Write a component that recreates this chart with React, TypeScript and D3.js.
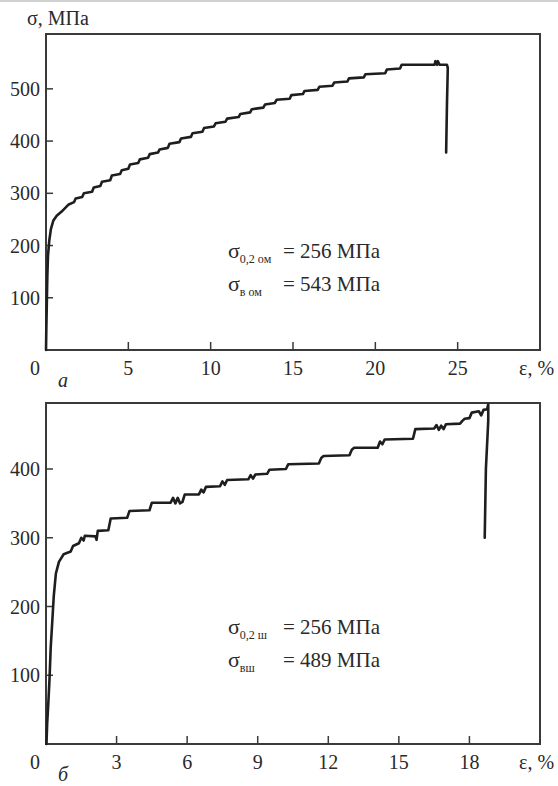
import React from "react";
import * as d3 from "d3";

// panel "а": tick values and the stress-strain trace [strain %, stress MPa]
const ticksXA = [5, 10, 15, 20, 25];
const ticksYA = [100, 200, 300, 400, 500];
const curveA: [number, number][] = [
  [0.0, 0], [0.02, 40], [0.05, 90], [0.08, 140], [0.12, 180], [0.2, 210], [0.3, 232],
  [0.45, 248], [0.65, 257], [0.95, 265], [1.35, 278], [1.7, 283], [1.8, 290], [2.2, 293],
  [2.3, 300], [2.8, 303], [2.9, 311], [3.3, 314], [3.4, 322], [3.9, 325], [4.0, 334],
  [4.5, 337], [4.6, 344], [5.0, 347], [5.1, 355], [5.6, 358], [5.7, 365], [6.2, 368],
  [6.3, 375], [6.8, 378], [6.9, 384], [7.4, 387], [7.5, 395], [8.1, 398], [8.2, 405],
  [8.8, 408], [8.9, 415], [9.5, 418], [9.6, 425], [10.2, 428], [10.3, 434], [10.9, 437],
  [11.0, 443], [11.7, 446], [11.8, 452], [12.4, 455], [12.5, 461], [13.2, 464], [13.3, 470],
  [13.9, 473], [14.0, 479], [14.8, 481], [14.9, 488], [15.6, 490], [15.7, 496], [16.5, 498],
  [16.6, 504], [17.4, 506], [17.5, 512], [18.3, 514], [18.4, 520], [19.3, 522], [19.4, 528],
  [20.6, 530], [20.7, 537], [21.5, 539], [21.6, 546], [23.6, 546], [23.65, 553], [23.75, 546],
  [23.8, 553], [23.9, 546], [24.35, 546], [24.4, 540], [24.35, 470], [24.3, 378],
];

// panel "б"
const ticksXB = [3, 6, 9, 12, 15, 18];
const ticksYB = [100, 200, 300, 400];
const curveB: [number, number][] = [
  [0.02, 0], [0.05, 30], [0.1, 60], [0.15, 95], [0.2, 140], [0.27, 180], [0.33, 215],
  [0.42, 248], [0.55, 265], [0.75, 276], [1.05, 280], [1.15, 288], [1.4, 292], [1.5, 300],
  [1.6, 296], [1.65, 303], [2.1, 302], [2.15, 297], [2.2, 310], [2.65, 311], [2.75, 328],
  [3.45, 329], [3.55, 339], [4.4, 340], [4.5, 351], [5.3, 351], [5.4, 358], [5.5, 350],
  [5.6, 358], [5.7, 350], [5.8, 352], [5.9, 363], [6.5, 363], [6.6, 370], [6.7, 366],
  [6.8, 374], [7.4, 375], [7.5, 382], [7.6, 377], [7.7, 384], [8.6, 385], [8.7, 391],
  [8.8, 386], [8.9, 392], [9.4, 393], [9.5, 399], [10.2, 400], [10.3, 407], [11.6, 408],
  [11.7, 416], [11.8, 419], [12.9, 420], [13.0, 428], [13.1, 431], [14.1, 431], [14.2, 440],
  [14.3, 436], [14.4, 443], [15.6, 444], [15.7, 458], [16.5, 459], [16.6, 464], [16.7, 457],
  [16.8, 463], [16.9, 458], [17.0, 465], [17.6, 466], [17.7, 470], [17.8, 473], [18.0, 474],
  [18.1, 482], [18.4, 484], [18.5, 478], [18.6, 486], [18.75, 487], [18.8, 494], [18.8, 470],
  [18.7, 400], [18.65, 300],
];

const FONT = "'Liberation Serif', 'Times New Roman', serif";
const INK = "#2a2a2a";

type PanelProps = {
  top: number;
  bottom: number;
  xMax: number;
  yMax: number;
  ticksX: number[];
  ticksY: number[];
  data: [number, number][];
  letter: string;
};

function Panel({ top, bottom, xMax, yMax, ticksX, ticksY, data, letter }: PanelProps) {
  const left = 46;
  const right = 540;
  const x = d3.scaleLinear().domain([0, xMax]).range([left, right]);
  const y = d3.scaleLinear().domain([0, yMax]).range([bottom, top]);
  const line = d3
    .line<[number, number]>()
    .x((d) => x(d[0]))
    .y((d) => y(d[1]));
  const labelY = bottom + 25;

  return (
    <g fontFamily={FONT} fill={INK}>
      <rect x={left} y={top} width={right - left} height={bottom - top}
        fill="none" stroke="#3a3a3a" strokeWidth={2} />
      {ticksX.map((t) => (
        <g key={"x" + t}>
          <line x1={x(t)} x2={x(t)} y1={bottom} y2={bottom - 8} stroke="#3a3a3a" strokeWidth={1.5} />
          <text x={x(t)} y={labelY} textAnchor="middle" fontSize={20}>{t}</text>
        </g>
      ))}
      {ticksY.map((t) => (
        <g key={"y" + t}>
          <line x1={left} x2={left + 7} y1={y(t)} y2={y(t)} stroke="#3a3a3a" strokeWidth={1.5} />
          <text x={40} y={y(t)} dy="0.35em" textAnchor="end" fontSize={20}>{t}</text>
        </g>
      ))}
      <text x={35} y={labelY} textAnchor="middle" fontSize={20}>0</text>
      <text x={519} y={labelY} fontSize={20}>ε, %</text>
      <text x={58} y={labelY + 12} fontSize={20} fontStyle="italic">{letter}</text>
      <path d={line(data) ?? ""} fill="none" stroke="#1e1e1e" strokeWidth={2.6}
        strokeLinejoin="round" strokeLinecap="round" />
    </g>
  );
}

function Note({ x, y, sub, rest }: { x: number; y: number; sub: string; rest: string }) {
  return (
    <g fontFamily={FONT} fill={INK}>
      <text x={x} y={y} fontSize={22}>
        σ<tspan fontSize={12} dy={5}>{sub}</tspan>
      </text>
      <text x={x + 55} y={y} fontSize={21}>{rest}</text>
    </g>
  );
}

export default function App() {
  return (
    <svg width={558} height={786} style={{ position: "absolute", left: 0, top: 0, background: "#fff" }}>
      <line x1={0} x2={558} y1={1} y2={1} stroke="#d0d0d0" strokeWidth={2} />
      <text x={27} y={25} fontFamily={FONT} fontSize={20} fill={INK}>σ, МПа</text>
      <Panel top={34} bottom={350} xMax={30} yMax={605} ticksX={ticksXA} ticksY={ticksYA}
        data={curveA} letter="а" />
      <Panel top={403} bottom={744} xMax={21} yMax={496} ticksX={ticksXB} ticksY={ticksYB}
        data={curveB} letter="б" />
      <Note x={228} y={258} sub="0,2 ом" rest="= 256 МПа" />
      <Note x={228} y={291} sub="в ом" rest="= 543 МПа" />
      <Note x={228} y={634} sub="0,2 ш" rest="= 256 МПа" />
      <Note x={228} y={667} sub="вш" rest="= 489 МПа" />
    </svg>
  );
}
